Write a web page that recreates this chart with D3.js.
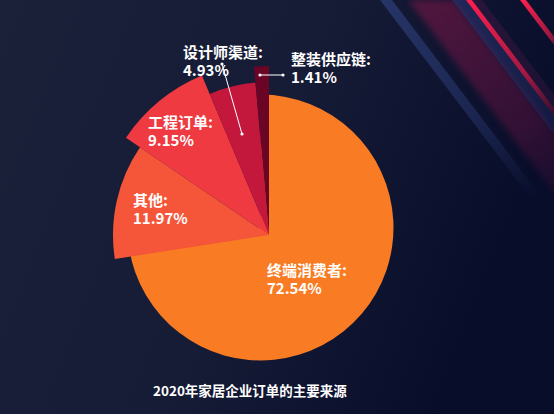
<!DOCTYPE html>
<html>
<head>
<meta charset="utf-8">
<script src="https://cdn.jsdelivr.net/npm/d3@7"></script>
<style>
  html, body { margin: 0; padding: 0; background: #151a33; }
  svg { display: block; }
  text { font-family: 'Noto Sans CJK SC', 'Noto Sans', sans-serif; font-weight: 700; fill: #ffffff; }
</style>
</head>
<body>
<svg id="chart" width="554" height="414"></svg>
<script>
// order sources in 2020, share in %
const categories = ['终端消费者', '其他', '工程订单', '设计师渠道', '整装供应链']
const values = [72.54, 11.97, 9.15, 4.93, 1.41]
const labels = ['72.54%', '11.97%', '9.15%', '4.93%', '1.41%']
const title = '2020年家居企业订单的主要来源'

// styling per slice
const colors = ['#f97b23', '#f55538', '#f03a41', '#c3183c', '#6b0525']
const outerR = [133, 156, 173, 153, 169]
const labelXY = [[-2, 41], [-136, -29], [-121, -107], [-86, -177], [22, -170]]

let svg = d3.select('#chart')
let W = 554, H = 414
let defs = svg.append('defs')

// background
let bg = defs.append('linearGradient').attr('id', 'bg')
  .attr('x1', 0).attr('y1', 0).attr('x2', 1).attr('y2', 0.3)
bg.append('stop').attr('offset', 0).attr('stop-color', '#1c213a')
bg.append('stop').attr('offset', 0.55).attr('stop-color', '#161b36')
bg.append('stop').attr('offset', 1).attr('stop-color', '#080d2a')
svg.append('rect').attr('width', W).attr('height', H).attr('fill', 'url(#bg)')

// diagonal stripes top right
let k = 0.76
let stripes = [
  {x: 380, w: 12, len: 200, color: '#2c3d78', op: 0.75},
  {x: 408, w: 46, len: 230, color: '#a0174f', op: 0.45, soft: true},
  {x: 452, w: 14, len: 200, color: '#2a3470', op: 0.6},
  {x: 466, w: 6, len: 130, color: '#ff1f4f', op: 1},
  {x: 472, w: 10, len: 190, color: '#3a1740', op: 0.6},
  {x: 520, w: 6, len: 60, color: '#ff1f4f', op: 1}
]
stripes.forEach((s, i) => {
  let g = defs.append('linearGradient').attr('id', 'st' + i)
    .attr('gradientUnits', 'userSpaceOnUse')
    .attr('x1', s.x).attr('y1', 0).attr('x2', s.x + k * s.len).attr('y2', s.len)
  g.append('stop').attr('offset', 0).attr('stop-color', s.color).attr('stop-opacity', s.op)
  g.append('stop').attr('offset', 0.6).attr('stop-color', s.color).attr('stop-opacity', s.op * 0.6)
  g.append('stop').attr('offset', 1).attr('stop-color', s.color).attr('stop-opacity', 0)
  let pts = [[s.x, 0], [s.x + s.w, 0], [s.x + s.w + k * s.len, s.len], [s.x + k * s.len, s.len]]
  let p = svg.append('polygon').attr('points', pts.map(d => d.join(',')).join(' '))
    .attr('fill', 'url(#st' + i + ')')
  if (s.soft) p.style('filter', 'blur(3px)')
})

// pie
let data = categories.map((c, i) => ({name: c, value: values[i], label: labels[i], i: i}))
let pie = d3.pie().sort(null).value(d => d.value).startAngle(0).endAngle(2 * Math.PI)
let arcs = pie(data)
let arc = d3.arc().innerRadius(0).outerRadius(d => outerR[d.data.i])

let c0 = [260.5, 227.5]   // big slice
let c1 = [269, 235]       // small slices

svg.append('g').attr('transform', 'translate(' + c0 + ')')
  .selectAll('path').data(arcs.slice(0, 1))
  .enter().append('path')
  .attr('d', arc)
  .attr('fill', d => colors[d.data.i])

let g1 = svg.append('g').attr('transform', 'translate(' + c1 + ')')
g1.selectAll('path').data(arcs.slice(1))
  .enter().append('path')
  .attr('d', arc)
  .attr('fill', d => colors[d.data.i])

// leader lines for the thin slices
let leaders = [
  {i: 3, from: [-27, -101], to: [-47, -171]},
  {i: 4, from: [-9, -160], to: [14, -160]}
]
leaders.forEach(l => {
  g1.append('line').attr('x1', l.from[0]).attr('y1', l.from[1])
    .attr('x2', l.to[0]).attr('y2', l.to[1])
    .attr('stroke', '#ffffff').attr('stroke-width', 1)
  ;[l.from, l.to].forEach(p => {
    g1.append('circle').attr('cx', p[0]).attr('cy', p[1]).attr('r', 1.6).attr('fill', '#ffffff')
  })
})

// labels
let lab = g1.selectAll('.lab').data(arcs)
  .enter().append('text')
  .attr('class', 'lab')
  .attr('x', d => labelXY[d.data.i][0])
  .attr('y', d => labelXY[d.data.i][1])
  .style('font-size', '15px')
lab.append('tspan').text(d => d.data.name + ':')
lab.append('tspan').attr('x', d => labelXY[d.data.i][0]).attr('dy', 17.5).text(d => d.data.label)

svg.append('text')
  .attr('x', 153).attr('y', 396)
  .style('font-size', '13.5px')
  .text(title)
</script>
</body>
</html>
